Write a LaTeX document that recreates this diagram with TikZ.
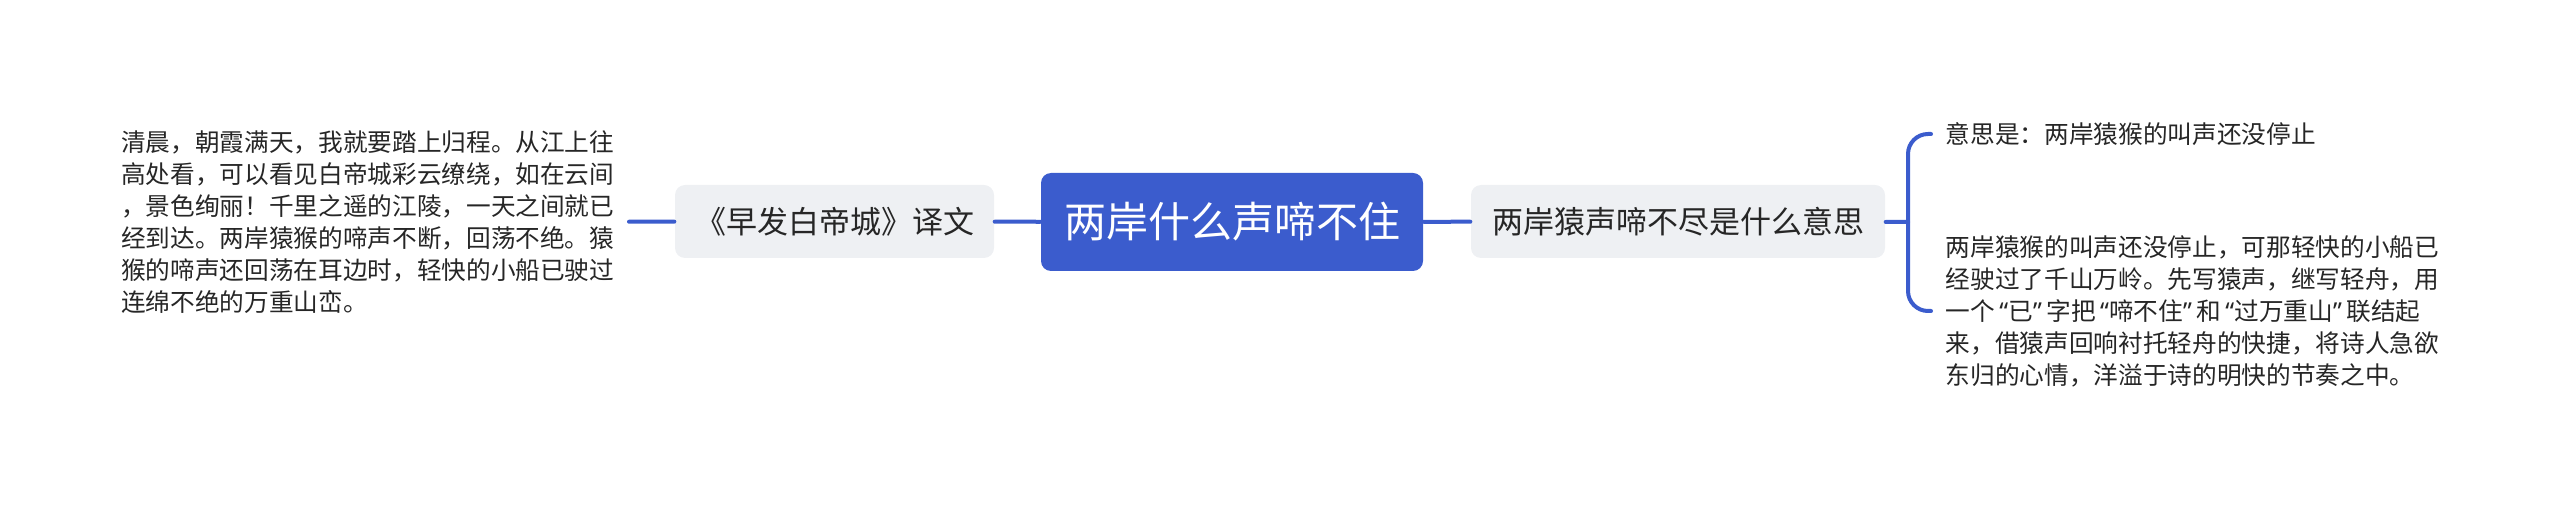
\documentclass[tikz,border=0pt]{standalone}
\usepackage{fontspec}
\setmainfont{Noto Sans CJK SC}
\newfontfamily\latinq{Noto Sans}
\newcommand{\cq}[1]{\makebox[4pt][r]{\latinq “}#1\makebox[4pt][l]{\latinq ”}}
\usepackage{tikz}
\definecolor{mapblue}{HTML}{3B5CCD}
\definecolor{boxgray}{HTML}{EEF0F3}
\definecolor{inkgray}{HTML}{262626}

\begin{document}
\begin{tikzpicture}[line cap=round,line join=round,x=0.3pt,y=-0.3pt,
    link/.style={draw=mapblue, line width=1.2pt},
    root/.style={fill=mapblue, text=white, rounded corners=3pt, inner sep=0pt, minimum width=114.6pt, minimum height=29.4pt, font=\fontsize{12.6pt}{15pt}\selectfont},
    topic/.style={fill=boxgray, text=inkgray, rounded corners=3pt, inner sep=0pt, minimum height=21.9pt, font=\fontsize{9.3pt}{11pt}\selectfont},
    leaf/.style={text=inkgray, align=left, inner xsep=4.2pt, inner ysep=0pt, font=\fontsize{7.4pt}{9.6pt}\selectfont}]

\useasboundingbox (0,0) rectangle (2560,508);

\node[root] (main) at (1232,222) {两岸什么声啼不住};
\node[topic, minimum width=95.7pt] (trans) at (834.5,221.5) {《早发白帝城》译文};
\node[topic, minimum width=124.2pt] (mean) at (1678,221.5) {两岸猿声啼不尽是什么意思};

% leaves
\node[leaf, anchor=east] (transtext) at (629,222) {清晨，朝霞满天，我就要踏上归程。从江上往\\
高处看，可以看见白帝城彩云缭绕，如在云间\\
，景色绚丽！千里之遥的江陵，一天之间就已\\
经到达。两岸猿猴的啼声不断，回荡不绝。猿\\
猴的啼声还回荡在耳边时，轻快的小船已驶过\\
连绵不绝的万重山峦。};
\node[leaf, anchor=west] (meana) at (1931,134) {意思是：两岸猿猴的叫声还没停止};
\node[leaf, anchor=west] (meanb) at (1931,311) {两岸猿猴的叫声还没停止，可那轻快的小船已\\
经驶过了千山万岭。先写猿声，继写轻舟，用\\
一个\cq{已}字把\cq{啼不住}和\cq{过万重山}联结起\\
来，借猿声回响衬托轻舟的快捷，将诗人急欲\\
东归的心情，洋溢于诗的明快的节奏之中。};

\coordinate (fork) at (1908,222);

\draw[link] (trans) -- (main);
\draw[link] (main) -- (mean);
\draw[link] (transtext) -- (trans);
\draw[link] (mean) -- (fork);
\draw[link, rounded corners=6pt] (fork) |- (meana.west);
\draw[link, rounded corners=6pt] (fork) |- (meanb.west);
\end{tikzpicture}
\end{document}
